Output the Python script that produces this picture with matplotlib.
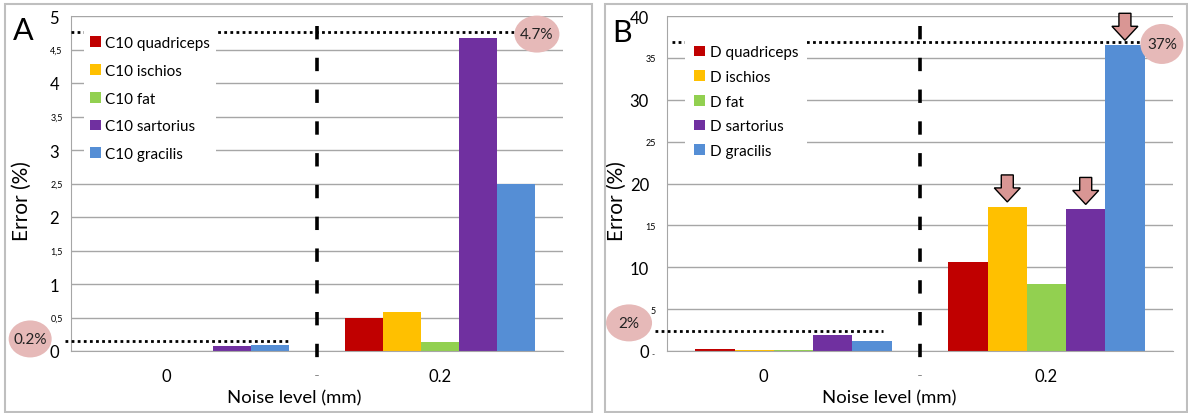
import numpy as np
import matplotlib.pyplot as plt
from matplotlib.patches import Ellipse, Polygon, Rectangle
from matplotlib.transforms import ScaledTranslation, offset_copy

plt.rcParams['font.family'] = ['Lato', 'DejaVu Sans']

# data
noise_levels = ['0', '0.2']
colors = ['#C00000', '#FFC000', '#92D050', '#7030A0', '#558ED5']
labels_c10 = ['C10 quadriceps', 'C10 ischios', 'C10 fat', 'C10 sartorius', 'C10 gracilis']
labels_d = ['D quadriceps', 'D ischios', 'D fat', 'D sartorius', 'D gracilis']
c10_noise0 = [0, 0, 0, 0.07, 0.09]
c10_noise02 = [0.50, 0.58, 0.14, 4.67, 2.50]
d_noise0 = [0.25, 0.1, 0.1, 1.95, 1.15]
d_noise02 = [10.6, 17.2, 8.0, 16.9, 36.5]
c10_lines = [4.76, 0.15]
c10_line_text = ['4.7%', '0.2%']
d_lines = [36.9, 2.4]
d_line_text = ['37%', '2%']
d_arrow_bars = [1, 3, 4]   # bars at noise 0.2 marked with an arrow

W, H = 1188, 414
fig = plt.figure(figsize=(W / 100, H / 100), dpi=100)

# panel frames
fig.add_artist(Rectangle((5 / W, 1 - 413 / H), 587 / W, 408 / H, transform=fig.transFigure,
                         fill=False, ec='#BFBFBF', lw=1.5))
fig.add_artist(Rectangle((605 / W, 1 - 413 / H), 582 / W, 408 / H, transform=fig.transFigure,
                         fill=False, ec='#BFBFBF', lw=1.5))

bw = 0.155
grid_col = '#A6A6A6'
pink = '#E6B9B8'


def draw_panel(ax, vals0, vals02, labels, ymax, major_step, minor_fmt, major_pad, minor_pad,
               lines, line_text, line_spans, ell_pos, leg_anchor, leg_spacing, leg_pad, zero_shift,
               xlab_x):
    for i in range(5):
        xs = np.arange(2) + (i - 2) * bw
        ax.bar(xs, [vals0[i], vals02[i]], bw, color=colors[i], zorder=2, label=labels[i])
    ax.set_xlim(-0.5, 1.5)
    ax.set_ylim(0, ymax)
    major = np.arange(0, ymax + major_step / 2, major_step)
    minor = major[:-1] + major_step / 2
    ax.set_yticks(major, [f'{v:g}' for v in major])
    ax.set_yticks(minor, [minor_fmt(v) for v in minor], minor=True)
    ax.tick_params(axis='y', which='major', length=0, labelsize=12, pad=major_pad)
    ax.tick_params(axis='y', which='minor', length=0, labelsize=6.5, pad=minor_pad)
    ax.set_xticks([])
    ax.grid(which='both', axis='y', color=grid_col, lw=1, zorder=0)
    ax.set_axisbelow(True)
    for s in ['top', 'right']:
        ax.spines[s].set_visible(False)
    ax.spines['left'].set_color(grid_col)
    ax.spines['bottom'].set_color(grid_col)

    # category labels
    for i, lab in enumerate(noise_levels):
        dx = zero_shift if i == 0 else 0
        tr = offset_copy(ax.get_xaxis_transform(), fig=fig, x=dx, y=-25, units='dots')
        ax.text(i, 0, lab, transform=tr, ha='center', va='center', fontsize=12)

    ax.text(xlab_x, -0.137, 'Noise level (mm)', transform=ax.transAxes,
            ha='center', va='center', fontsize=13.3)
    ax.text(-0.1, 0.45, 'Error (%)', transform=ax.transAxes, rotation=90,
            ha='center', va='center', fontsize=15)

    # vertical dashed separator
    ax.plot([0.5, 0.5], [0.97, -0.075], transform=ax.get_xaxis_transform(), color='black',
            lw=2.6, ls=(0, (3.7, 5.1)), clip_on=False, zorder=4)

    # dotted reference lines with pink ellipse labels
    ytr = ax.get_yaxis_transform()
    for yv, txt, (x0, x1), (ex, edy, ew, eh) in zip(lines, line_text, line_spans, ell_pos):
        ax.plot([x0, x1], [yv, yv], transform=ytr, color='black', lw=2,
                ls=(0, (1, 1.2)), clip_on=False, zorder=3)
        anchor = fig.dpi_scale_trans + ScaledTranslation(ex, yv, ytr)
        ax.add_patch(Ellipse((0, edy / 100), ew / 100, eh / 100, transform=anchor,
                             fc=pink, ec='none', clip_on=False, zorder=5))
        ax.text(0, edy / 100, txt, transform=anchor, ha='center', va='center',
                fontsize=11, color='#222222', zorder=6, clip_on=False)

    leg = ax.legend(loc='upper left', bbox_to_anchor=leg_anchor, borderaxespad=0,
                    frameon=True, facecolor='white', edgecolor='none', framealpha=1,
                    fontsize=11, handlelength=0.7, handleheight=0.7, handletextpad=0.3,
                    labelspacing=leg_spacing, borderpad=leg_pad, fancybox=False)
    leg.set_zorder(5)


axA = fig.add_axes([71 / W, 62 / H, 492 / W, 335 / H])
draw_panel(axA, c10_noise0, c10_noise02, labels_c10, 5, 1,
           lambda v: f'{v:g}'.replace('.', ','), 8.5, 6,
           c10_lines, c10_line_text, [(0.0, 0.906), (-0.012, 0.441)],
           [(0.947, -2, 45, 37), (-0.083, 2, 43, 37)],
           (0.026, 0.958), 0.9, 0.4, -28, 0.453)

axB = fig.add_axes([667 / W, 62 / H, 506 / W, 335 / H])
draw_panel(axB, d_noise0, d_noise02, labels_d, 40, 10,
           lambda v: f'{v:g}', 13, 8,
           d_lines, d_line_text, [(0.01, 0.94), (-0.024, 0.427)],
           [(0.978, -2, 43, 40), (-0.075, 8, 46, 37)],
           (0.036, 0.94), 0.7, 0.6, -30, 0.439)
axB.text(-0.028, 0, '-', transform=offset_copy(axB.get_yaxis_transform(), fig=fig, y=-3, units='dots'),
         ha='center', va='center', fontsize=6)

# arrows above the highlighted D bars
for i in d_arrow_bars:
    x = 1 + (i - 2) * bw
    anchor = fig.dpi_scale_trans + ScaledTranslation(x, d_noise02[i] + 0.6, axB.transData)
    pts = np.array([(0, 0), (-13, 14), (-6, 14), (-6, 27), (6, 27), (6, 14), (13, 14)]) / 100
    axB.add_patch(Polygon(pts, closed=True, transform=anchor, fc='#D99694', ec='black',
                          lw=1, clip_on=False, zorder=6))

fig.text(23 / W, 1 - 31 / H, 'A', fontsize=22, ha='center', va='center')
fig.text(622 / W, 1 - 33 / H, 'B', fontsize=22, ha='center', va='center')

fig.savefig('out.png', dpi=100)
